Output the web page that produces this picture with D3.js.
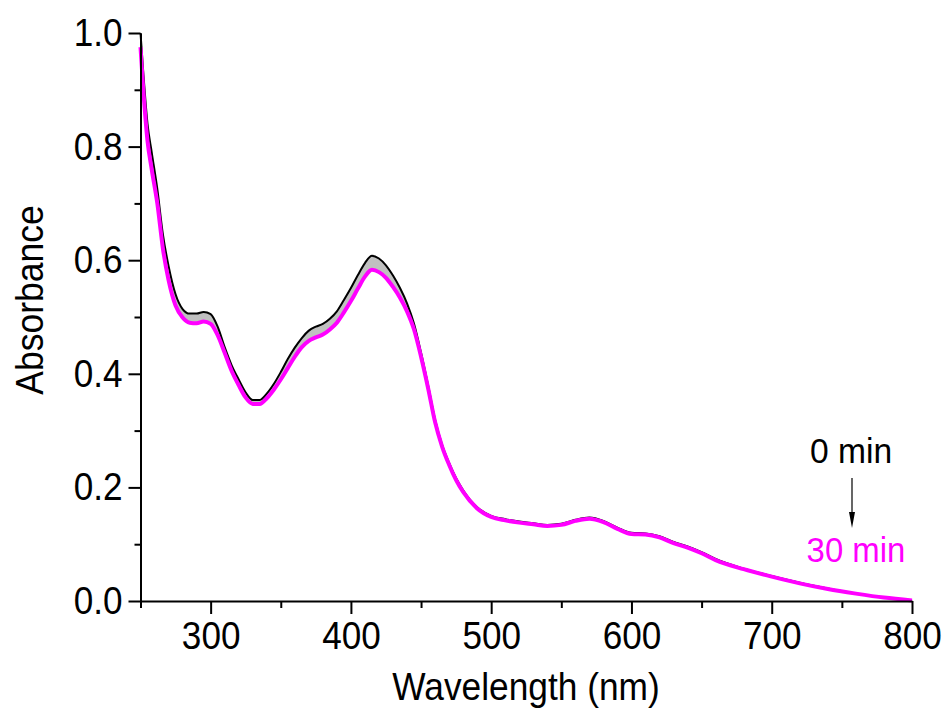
<!DOCTYPE html>
<html>
<head>
<meta charset="utf-8">
<script src="https://cdn.jsdelivr.net/npm/d3@7/dist/d3.min.js"></script>
<style>
  html, body { margin: 0; padding: 0; background: #fff; }
  svg { display: block; font-family: Arial, "Liberation Sans", sans-serif; }
</style>
</head>
<body>
<svg id="chart" width="947" height="715"></svg>
<script>
// UV-Vis spectra recorded at the start (0 min) and after 30 min
const wavelength = [250, 252, 255, 258, 262, 266, 270, 275, 280, 285, 290, 295, 300, 305, 310, 315, 320, 325, 330, 335, 340, 345, 350, 355, 360, 365, 370, 375, 380, 385, 390, 395, 400, 405, 410, 415, 420, 425, 430, 435, 440, 445, 450, 455, 460, 465, 470, 475, 480, 490, 500, 510, 520, 530, 540, 550, 560, 570, 580, 590, 600, 610, 620, 630, 640, 650, 660, 680, 700, 720, 740, 760, 780, 800];

const abs30 = [0.975, 0.90, 0.81, 0.76, 0.70, 0.62, 0.565, 0.52, 0.499, 0.49, 0.489, 0.492, 0.488, 0.468, 0.437, 0.405, 0.38, 0.358, 0.347, 0.347, 0.357, 0.372, 0.39, 0.41, 0.43, 0.447, 0.458, 0.464, 0.469, 0.478, 0.49, 0.508, 0.528, 0.55, 0.571, 0.583, 0.579, 0.569, 0.553, 0.534, 0.51, 0.478, 0.43, 0.375, 0.315, 0.272, 0.24, 0.213, 0.192, 0.163, 0.148, 0.142, 0.138, 0.135, 0.132, 0.134, 0.141, 0.145, 0.139, 0.127, 0.118, 0.117, 0.112, 0.102, 0.094, 0.084, 0.072, 0.056, 0.043, 0.031, 0.021, 0.013, 0.006, 0.001];

const abs0 = [1.0, 0.93, 0.84, 0.79, 0.725, 0.645, 0.59, 0.54, 0.514, 0.506, 0.506, 0.509, 0.505, 0.483, 0.447, 0.415, 0.39, 0.367, 0.354, 0.354, 0.365, 0.382, 0.403, 0.426, 0.446, 0.463, 0.476, 0.483, 0.488, 0.497, 0.51, 0.53, 0.551, 0.574, 0.595, 0.608, 0.603, 0.591, 0.573, 0.551, 0.524, 0.488, 0.437, 0.38, 0.319, 0.275, 0.243, 0.216, 0.195, 0.165, 0.15, 0.144, 0.140, 0.137, 0.134, 0.136, 0.143, 0.147, 0.141, 0.129, 0.120, 0.119, 0.114, 0.104, 0.096, 0.086, 0.074, 0.057, 0.044, 0.032, 0.022, 0.013, 0.006, 0.001];

const xTicks = [300, 400, 500, 600, 700, 800];
const xMinor = [250, 350, 450, 550, 650, 750];
const yTicks = [0.0, 0.2, 0.4, 0.6, 0.8, 1.0];
const yMinor = [0.1, 0.3, 0.5, 0.7, 0.9];

const svg = d3.select("#chart");
const x = d3.scaleLinear().domain([250, 800]).range([140.5, 912]);
const y = d3.scaleLinear().domain([0, 1]).range([601, 33]);

const rows = wavelength.map((w, i) => ({ w, a0: abs0[i], a30: abs30[i] }));

// narrow the glyphs horizontally, keeping their height
function condense(sel, ratio) {
  sel.each(function () {
    const len = this.getComputedTextLength();
    d3.select(this).attr("textLength", len * ratio).attr("lengthAdjust", "spacingAndGlyphs");
  });
}

// band between the two spectra
svg.append("path")
  .datum(rows)
  .attr("fill", "#c0c0c0")
  .attr("d", d3.area().x(d => x(d.w)).y0(d => y(d.a30)).y1(d => y(d.a0)).curve(d3.curveMonotoneX));

svg.append("path")
  .datum(rows)
  .attr("fill", "none").attr("stroke", "#000").attr("stroke-width", 2)
  .attr("d", d3.line().x(d => x(d.w)).y(d => y(d.a0)).curve(d3.curveMonotoneX));

svg.append("path")
  .datum(rows)
  .attr("fill", "none").attr("stroke", "#ff00ff").attr("stroke-width", 4)
  .attr("stroke-linejoin", "round")
  .attr("d", d3.line().x(d => x(d.w)).y(d => y(d.a30)).curve(d3.curveMonotoneX));

// axes
const fontSize = 39;
svg.append("g").attr("transform", "translate(0,601)")
  .call(d3.axisBottom(x).tickValues(xTicks).tickSize(13).tickSizeOuter(0).tickPadding(7).tickFormat(d3.format("d")));
svg.append("g").attr("transform", "translate(0,601)")
  .call(d3.axisBottom(x).tickValues(xMinor).tickSize(7).tickSizeOuter(0).tickFormat(""))
  .select(".domain").remove();

svg.append("g").attr("transform", "translate(140.5,0)")
  .call(d3.axisLeft(y).tickValues(yTicks).tickSize(12).tickSizeOuter(0).tickPadding(6).tickFormat(d3.format(".1f")));
svg.append("g").attr("transform", "translate(140.5,0)")
  .call(d3.axisLeft(y).tickValues(yMinor).tickSize(6).tickSizeOuter(0).tickFormat(""))
  .select(".domain").remove();

svg.selectAll(".domain").attr("stroke-width", 2);
svg.selectAll(".tick line").attr("stroke-width", 2);
svg.selectAll(".tick text")
  .attr("font-size", fontSize)
  .attr("font-family", "Arial, 'Liberation Sans', sans-serif")
  .attr("fill", "#000")
  .call(condense, 0.9);

// axis titles
svg.append("text")
  .attr("x", 526).attr("y", 700)
  .attr("text-anchor", "middle").attr("font-size", 39)
  .text("Wavelength (nm)")
  .call(condense, 0.905);

svg.append("text")
  .attr("transform", "translate(43,300) rotate(-90)")
  .attr("text-anchor", "middle").attr("font-size", 39)
  .text("Absorbance")
  .call(condense, 0.91);

// time annotation
svg.append("text")
  .attr("x", 851).attr("y", 463)
  .attr("text-anchor", "middle").attr("font-size", 35).attr("fill", "#000")
  .text("0 min")
  .call(condense, 0.96);

svg.append("text")
  .attr("x", 856).attr("y", 562)
  .attr("text-anchor", "middle").attr("font-size", 35).attr("fill", "#ff00ff")
  .text("30 min")
  .call(condense, 0.94);

svg.append("line")
  .attr("x1", 852).attr("x2", 852).attr("y1", 478).attr("y2", 514)
  .attr("stroke", "#000").attr("stroke-width", 1.2);
svg.append("path")
  .attr("d", d3.line()([[849, 512], [855, 512], [852, 528]]))
  .attr("fill", "#000");
</script>
</body>
</html>
